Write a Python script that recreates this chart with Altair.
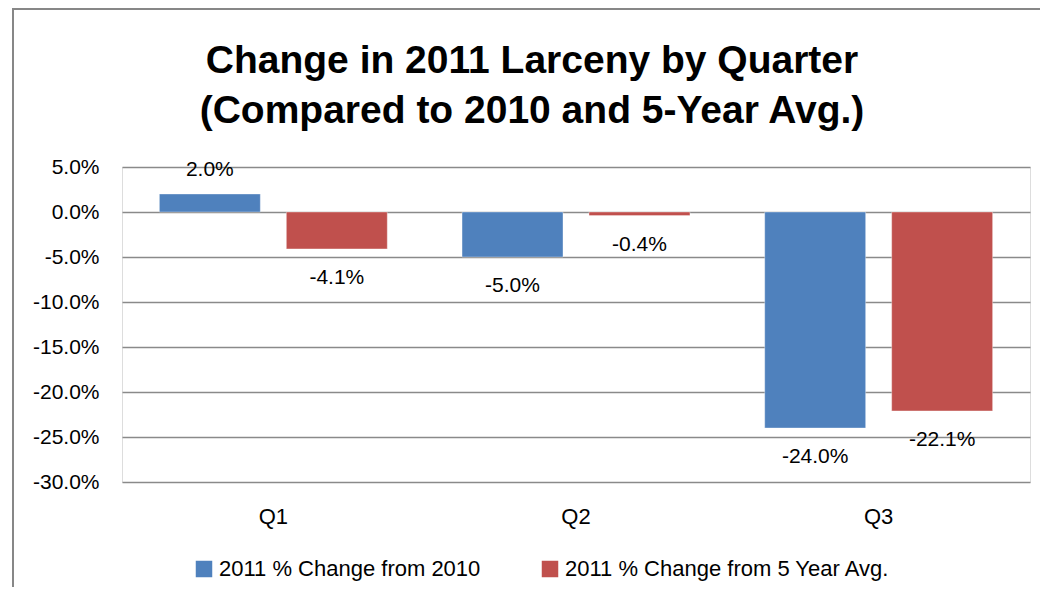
import altair as alt
import pandas as pd

# ---- data ----
quarters = ["Q1", "Q2", "Q3"]
series_names = ["2011 % Change from 2010", "2011 % Change from 5 Year Avg."]
change_from_2010 = [0.020, -0.050, -0.240]
change_from_5yr = [-0.041, -0.004, -0.221]
y_ticks = [0.05, 0.0, -0.05, -0.10, -0.15, -0.20, -0.25, -0.30]
colors = ["#4F81BD", "#C0504D"]

rows = []
for q, a, b in zip(quarters, change_from_2010, change_from_5yr):
    rows.append({"Quarter": q, "Series": series_names[0], "Value": a})
    rows.append({"Quarter": q, "Series": series_names[1], "Value": b})
df = pd.DataFrame(rows)
df["Label"] = df["Value"].map(lambda v: f"{v * 100:.1f}%")

FONT = "Liberation Sans"
TITLE_FONT = "Liberation Sans"
GRID = "#8a8a8a"

x_enc = alt.X(
    "Quarter:N",
    sort=quarters,
    scale=alt.Scale(paddingInner=0.247, paddingOuter=0.1235),
    axis=alt.Axis(
        title=None, labelAngle=0, labelPadding=24, domain=False, ticks=False,
        grid=False, labelFont=FONT, labelFontSize=22, labelColor="#000000",
    ),
)
xoff_enc = alt.XOffset(
    "Series:N", sort=series_names,
    scale=alt.Scale(paddingInner=0.205, paddingOuter=0),
)
y_enc = alt.Y(
    "Value:Q",
    scale=alt.Scale(domain=[-0.30, 0.05], nice=False, zero=False),
    axis=alt.Axis(
        title=None, values=y_ticks,
        labelExpr="replace(format(datum.value, '.1%'), '\u2212', '-')",
        labelPadding=23, domain=False, ticks=False, grid=True,
        gridColor=GRID, gridWidth=1.5, labelFont=FONT, labelFontSize=21,
        labelColor="#000000",
    ),
)

base = alt.Chart(df)

bars = base.mark_bar(stroke="#ffffff", strokeOpacity=0.35, strokeWidth=1).encode(
    x=x_enc,
    xOffset=xoff_enc,
    y=y_enc,
    y2=alt.datum(0),
    color=alt.Color(
        "Series:N",
        sort=series_names,
        scale=alt.Scale(domain=series_names, range=colors),
        legend=alt.Legend(
            title=None, orient="none", direction="horizontal",
            legendX=71, legendY=391, symbolType="square", symbolSize=272,
            symbolStrokeWidth=0, labelFont=FONT, labelFontSize=22,
            labelColor="#000000", labelOffset=4, columnPadding=58,
            labelLimit=600,
        ),
    ),
)

pos_labels = base.transform_filter("datum.Value >= 0").mark_text(
    font=FONT, fontSize=21, color="#000000", baseline="middle", dy=-24
).encode(x=alt.X("Quarter:N", sort=quarters), xOffset=alt.XOffset("Series:N", sort=series_names),
         y=alt.Y("Value:Q"), text="Label:N")

neg_labels = base.transform_filter("datum.Value < 0").mark_text(
    font=FONT, fontSize=21, color="#000000", baseline="middle", dy=29
).encode(x=alt.X("Quarter:N", sort=quarters), xOffset=alt.XOffset("Series:N", sort=series_names),
         y=alt.Y("Value:Q"), text="Label:N")

frame_df = pd.DataFrame({"k": [0]})
left_border = alt.Chart(frame_df).mark_rule(color="#878787", strokeWidth=2).encode(
    x=alt.value(-109), y=alt.value(-158), y2=alt.value(440)
)
top_border = alt.Chart(frame_df).mark_rule(color="#878787", strokeWidth=2).encode(
    x=alt.value(-110), x2=alt.value(930), y=alt.value(-158)
)

chart = alt.layer(left_border, top_border, bars, pos_labels, neg_labels).properties(
    width=908,
    height=315,
    autosize=alt.AutoSizeParams(type="none"),
    padding={"left": 114, "top": 159, "right": 10, "bottom": 105},
    title=alt.TitleParams(
        text=["Change in 2011 Larceny by Quarter", "(Compared to 2010 and 5-Year Avg.)"],
        font=TITLE_FONT, fontSize=39, fontWeight="bold", color="#000000",
        anchor="middle", lineHeight=50, baseline="bottom", offset=-162, dx=-44,
    ),
).configure_view(stroke=None).configure(background="#ffffff")

chart.save("out.html", embed_options={"renderer": "svg", "actions": False})
